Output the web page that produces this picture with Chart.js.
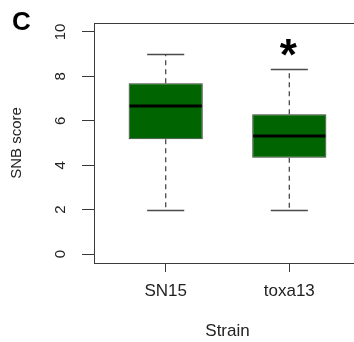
<!DOCTYPE html>
<html>
<head>
<meta charset="utf-8">
<script src="https://cdn.jsdelivr.net/npm/chart.js@4.4.1/dist/chart.umd.min.js"></script>
<style>
    html, body { margin: 0; padding: 0; background: #fff; overflow: hidden; }
    #wrap { width: 361px; height: 342px; }
</style>
</head>
<body>
<div id="wrap"><canvas id="chart" width="361" height="342"></canvas></div>
<script>
// --- DATOS ---
const strains = ['SN15', 'toxa13'];
const whiskerLow = [2, 2];
const q1 = [5.17, 4.34];
const median = [6.67, 5.31];
const q3 = [7.69, 6.29];
const whiskerHigh = [9, 8.33];
const sigMarks = ['', '*'];
const yTicks = [0, 2, 4, 6, 8, 10];

const FONT = '"Liberation Sans", Arial, Helvetica, sans-serif';
const AXIS_COLOR = '#3a3a3a';

// posiciones en x: 1, 2, ... (como R)
const positions = strains.map((s, i) => i + 1);

// Plugin que dibuja lo que Chart.js no trae: bigotes, mediana, marco, etiquetas rotadas
const boxplotExtras = {
    id: 'boxplotExtras',
    afterDatasetsDraw(chart) {
        const ctx = chart.ctx;
        const xs = chart.scales.x;
        const ys = chart.scales.y;
        ctx.save();
        positions.forEach((pos, i) => {
            const cx = xs.getPixelForValue(pos);
            const capL = xs.getPixelForValue(pos - 0.15);
            const capR = xs.getPixelForValue(pos + 0.15);
            const boxL = xs.getPixelForValue(pos - 0.3);
            const boxR = xs.getPixelForValue(pos + 0.3);

            // bigotes discontinuos
            ctx.strokeStyle = '#4a4a4a';
            ctx.lineWidth = 1.3;
            ctx.setLineDash([5, 4]);
            ctx.beginPath();
            ctx.moveTo(cx, ys.getPixelForValue(q3[i]));
            ctx.lineTo(cx, ys.getPixelForValue(whiskerHigh[i]));
            ctx.moveTo(cx, ys.getPixelForValue(q1[i]));
            ctx.lineTo(cx, ys.getPixelForValue(whiskerLow[i]));
            ctx.stroke();

            // topes
            ctx.setLineDash([]);
            ctx.beginPath();
            [whiskerHigh[i], whiskerLow[i]].forEach(v => {
                const y = Math.round(ys.getPixelForValue(v)) + 0.5;
                ctx.moveTo(capL, y);
                ctx.lineTo(capR, y);
            });
            ctx.stroke();

            // mediana
            ctx.strokeStyle = '#000';
            ctx.lineWidth = 3;
            ctx.beginPath();
            const my = ys.getPixelForValue(median[i]);
            ctx.moveTo(boxL + 1, my);
            ctx.lineTo(boxR - 1, my);
            ctx.stroke();

            // asterisco de significancia
            if (sigMarks[i]) {
                ctx.fillStyle = '#000';
                ctx.font = 'bold 44px ' + FONT;
                ctx.textAlign = 'center';
                ctx.textBaseline = 'alphabetic';
                ctx.fillText(sigMarks[i], cx - 1, ys.getPixelForValue(whiskerHigh[i]) + 0.5);
            }
        });
        ctx.restore();
    },
    afterDraw(chart) {
        const ctx = chart.ctx;
        const area = chart.chartArea;
        const ys = chart.scales.y;
        ctx.save();

        // marco (bty = "o")
        ctx.strokeStyle = AXIS_COLOR;
        ctx.lineWidth = 1;
        ctx.strokeRect(Math.round(area.left) + 0.5, Math.round(area.top) + 0.5,
            area.right - area.left, area.bottom - area.top);

        // etiquetas del eje y, paralelas al eje
        ctx.fillStyle = '#222';
        ctx.font = '15px ' + FONT;
        ctx.textAlign = 'center';
        ctx.textBaseline = 'middle';
        yTicks.forEach(v => {
            ctx.save();
            ctx.translate(61, ys.getPixelForValue(v));
            ctx.rotate(-Math.PI / 2);
            ctx.fillText(String(v), 0, 0);
            ctx.restore();
        });

        // letra del panel
        ctx.fillStyle = '#000';
        ctx.font = 'bold 26px ' + FONT;
        ctx.textAlign = 'left';
        ctx.textBaseline = 'alphabetic';
        ctx.fillText('C', 12, 30);
        ctx.restore();
    }
};

const chart = new Chart(document.getElementById('chart'), {
    type: 'bar',
    data: {
        datasets: [{
            label: 'SNB',
            data: positions.map((pos, i) => ({ x: pos, y: [q1[i], q3[i]] })),
            backgroundColor: '#006400',
            borderColor: '#3a3a3a',
            borderWidth: 1,
            borderSkipped: false,
            categoryPercentage: 1,
            barPercentage: 0.6
        }]
    },
    options: {
        responsive: false,
        animation: false,
        layout: { padding: { top: 23, left: 0, right: 0, bottom: 0 } },
        plugins: {
            legend: { display: false },
            tooltip: { enabled: false }
        },
        scales: {
            x: {
                type: 'linear',
                min: 0.42,
                max: 2.58,
                offset: false,
                afterBuildTicks: scale => {
                    scale.ticks = positions.map(v => ({ value: v }));
                },
                afterFit: scale => { scale.height = 79; },
                ticks: {
                    color: '#222',
                    font: { family: FONT, size: 17 },
                    padding: 9,
                    maxRotation: 0,
                    callback: v => strains[v - 1] || ''
                },
                grid: {
                    offset: false,
                    drawOnChartArea: false,
                    drawTicks: true,
                    tickLength: 9,
                    color: AXIS_COLOR
                },
                border: { display: true, color: AXIS_COLOR },
                title: {
                    display: true,
                    text: 'Strain',
                    color: '#222',
                    font: { family: FONT, size: 17 },
                    padding: { top: 0, bottom: 0 }
                }
            },
            y: {
                min: -0.4,
                max: 10.4,
                afterBuildTicks: scale => {
                    scale.ticks = yTicks.map(v => ({ value: v }));
                },
                afterFit: scale => { scale.width = 94; },
                ticks: { display: false },
                grid: {
                    drawOnChartArea: false,
                    drawTicks: true,
                    tickLength: 12,
                    color: AXIS_COLOR
                },
                border: { display: true, color: AXIS_COLOR },
                title: {
                    display: true,
                    text: 'SNB score',
                    color: '#222',
                    font: { family: FONT, size: 15 },
                    padding: { top: 8, bottom: 0 }
                }
            }
        }
    },
    plugins: [boxplotExtras]
});
</script>
</body>
</html>
